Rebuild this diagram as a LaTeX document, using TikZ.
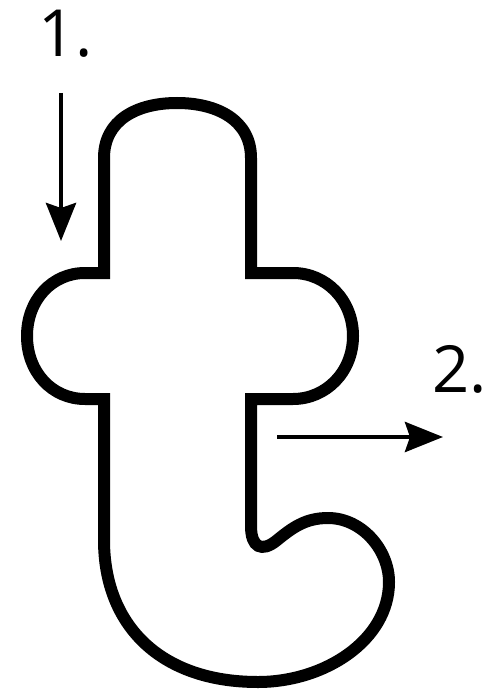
\documentclass[tikz,border=0pt]{standalone}
\usepackage{fontspec}
\setmainfont{Open Sans}
\usepackage{tikz}
\usetikzlibrary{arrows.meta,positioning,calc}

\begin{document}
\begin{tikzpicture}[
    x=0.02cm, y=-0.02cm,
    letter/.style={draw, line width=0.24cm, line join=miter},
    motion/.style={draw, line width=0.09cm, -{Stealth[length=0.76cm, width=0.6cm, inset=0.1cm]}},
    steplabel/.style={inner sep=0pt, anchor=base west, font=\fontsize{37}{40}\selectfont}
]
    \useasboundingbox (0,0) rectangle (485,699);

    % outline of the letter
    \draw[letter] (104,273) -- (104,158)
        .. controls (104,120) and (137,103) .. (177,103)
        .. controls (217,103) and (251,120) .. (251,158)
        -- (251,273) -- (293,273)
        .. controls (326,273) and (353,300) .. (353,336)
        .. controls (353,372) and (326,399) .. (293,399)
        -- (251,399) -- (251,526)
        .. controls (251,548) and (262,552) .. (276,541)
        .. controls (292,528) and (305,518) .. (328,518)
        .. controls (362,518) and (389,550) .. (389,582)
        .. controls (389,640) and (325,682) .. (258,682)
        .. controls (160,682) and (104,625) .. (104,540)
        -- (104,399) -- (85,399)
        .. controls (52,399) and (27,372) .. (27,336)
        .. controls (27,300) and (52,273) .. (85,273)
        -- cycle;

    \node[steplabel] (one) at (38,57) {1.};
    \node[steplabel] (two) at (432,392) {2.};

    \coordinate (down start) at (61,93);
    \coordinate (down end) at (61,241);
    \coordinate (out start) at (277,437);
    \coordinate (out end) at (443,437);

    \draw[motion] (down start) -- (down end);
    \draw[motion] (out start) -- (out end);
\end{tikzpicture}
\end{document}
